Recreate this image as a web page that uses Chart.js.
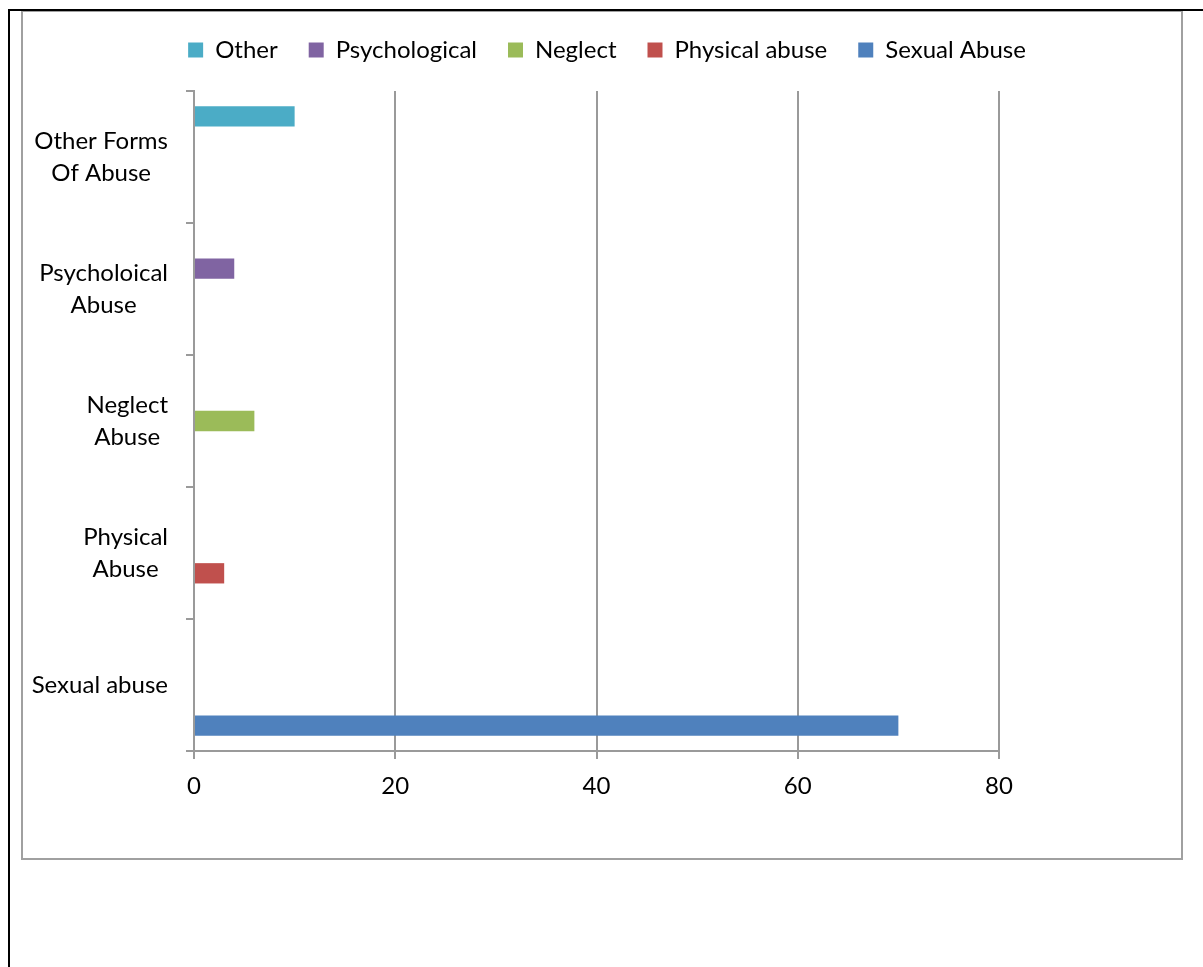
<!DOCTYPE html>
<html>
<head>
<meta charset="utf-8">
<script src="https://cdn.jsdelivr.net/npm/chart.js@4.4.1/dist/chart.umd.min.js"></script>
<style>
    html, body { margin: 0; padding: 0; background: #fff; }
    body { width: 1203px; height: 967px; position: relative; overflow: hidden; }
    #chartBox { position: absolute; left: 21px; top: 10px; width: 1158px; height: 846px; border: 2px solid #a0a0a0; }
    #pageFrame { position: absolute; left: 8px; top: 9px; right: -4px; bottom: -4px; border-left: 2px solid #000; border-top: 2px solid #000; }
    #abuseChart { position: absolute; left: 0; top: 0; }
</style>
</head>
<body>
<div id="chartBox"></div>
<div id="pageFrame"></div>
<canvas id="abuseChart" width="1203" height="967"></canvas>
<script>
/* categories, top to bottom */
const categories = [
    ["Other Forms", "Of Abuse"],
    ["Psycholoical", "Abuse"],
    ["Neglect", "Abuse"],
    ["Physical", "Abuse"],
    ["Sexual abuse"]
];

const seriesNames = ["Other", "Psychological", "Neglect", "Physical abuse", "Sexual Abuse"];

const otherValues         = [10, null, null, null, null];
const psychologicalValues = [null, 4, null, null, null];
const neglectValues       = [null, null, 6, null, null];
const physicalValues      = [null, null, null, 3, null];
const sexualValues        = [null, null, null, null, 70];

const xTicks = [0, 20, 40, 60, 80];

const seriesColors = ["#4BACC6", "#8064A2", "#9BBB59", "#C0504D", "#4F81BD"];
const gridColor = "#9a9a9a";
const font = { family: "Lato", size: 24 };

const allValues = [otherValues, psychologicalValues, neglectValues, physicalValues, sexualValues];

// legend sizing / placement + centred multi-line category labels
const layoutTweaks = {

    id: "layoutTweaks",

    beforeLayout(chart) {
        const legend = chart.legend;
        if (!legend || legend._tweaked) return;
        const fit = legend.fit;
        legend.fit = function () {
            this.maxWidth = 1300;
            fit.call(this);
            this.height = 91;
        };
        legend._tweaked = true;
    },

    afterLayout(chart) {
        chart.legend.left = 0;
        chart.legend.right = 1214;
        chart.legend.top = 7;
    },

    afterDraw(chart) {
        const ctx = chart.ctx;
        const yScale = chart.scales.y;
        const right = yScale.right - 26;
        ctx.save();
        ctx.font = font.size + "px " + font.family;
        ctx.fillStyle = "#000";
        ctx.textBaseline = "middle";
        ctx.textAlign = "center";
        chart.data.labels.forEach((lines, i) => {
            const center = yScale.getPixelForTick(i);
            const blockWidth = Math.max(...lines.map(l => ctx.measureText(l).width));
            const cx = right - blockWidth / 2;
            lines.forEach((line, k) => {
                ctx.fillText(line, cx, center + (k - (lines.length - 1) / 2) * 32);
            });
        });
        ctx.restore();
    }

};

new Chart(document.getElementById("abuseChart"), {

    type: "bar",

    data: {

        labels: categories,

        datasets: seriesNames.map((name, i) => ({
            label: name,
            data: allValues[i],
            backgroundColor: seriesColors[i],
            borderWidth: 0,
            categoryPercentage: 5 / 6.5,
            barPercentage: 1
        }))

    },

    options: {

        indexAxis: "y",

        responsive: false,

        animation: false,

        devicePixelRatio: 1,

        layout: {
            padding: { left: 0, right: 204, top: 0, bottom: 0 }
        },

        plugins: {

            legend: {
                position: "top",
                labels: {
                    font,
                    color: "#000",
                    boxWidth: 15,
                    boxHeight: 15,
                    padding: 31
                }
            },

            tooltip: { enabled: false }

        },

        scales: {

            x: {
                min: 0,
                max: 80,
                afterBuildTicks: s => { s.ticks = xTicks.map(v => ({ value: v })); },
                afterFit: s => { s.height = 216; },
                grid: {
                    color: gridColor,
                    lineWidth: 2,
                    tickLength: 8
                },
                border: { color: gridColor, width: 2 },
                ticks: {
                    font,
                    color: "#000",
                    padding: 13,
                    maxRotation: 0
                }
            },

            y: {
                afterFit: s => { s.width = 194; },
                grid: {
                    color: gridColor,
                    lineWidth: 2,
                    tickLength: 8,
                    drawOnChartArea: false
                },
                border: { color: gridColor, width: 2 },
                ticks: { display: false }
            }

        }

    },

    plugins: [layoutTweaks]

});
</script>
</body>
</html>
